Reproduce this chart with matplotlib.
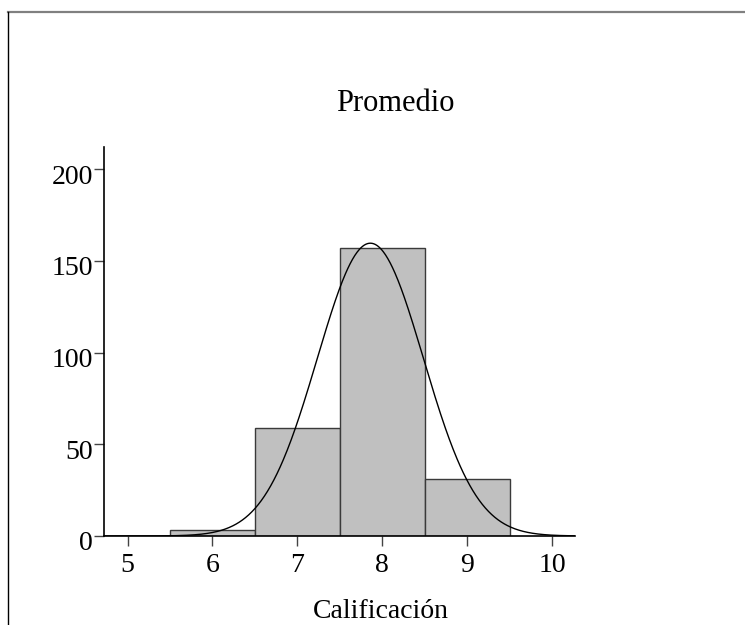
import numpy as np
import matplotlib
matplotlib.use("Agg")
import matplotlib.pyplot as plt
import matplotlib.transforms as mtransforms
from matplotlib.lines import Line2D

# Data
grades = [5, 6, 7, 8, 9]
counts = [0, 3, 59, 157, 31]
fit_mean = 7.86
fit_sd = 0.625
title = "Promedio"
xlabel = "Calificación"
xticks = [5, 6, 7, 8, 9, 10]
yticks = [0, 50, 100, 150, 200]

plt.rcParams['font.family'] = ['Liberation Serif', 'DejaVu Serif']
FS = 20

fig = plt.figure(figsize=(7.45, 6.25), dpi=100)
ax = fig.add_axes([104/745, 1-536/625, (575-104)/745, (536-147)/625])

ax.bar(grades, counts, width=1.0, color='#c0c0c0', edgecolor='#3a3a3a', linewidth=1.0, zorder=2)

xlim = (4.723, 10.27)
xs = np.linspace(xlim[0], xlim[1], 600)
n = sum(counts)
ys = n * 1.0 / (fit_sd * np.sqrt(2*np.pi)) * np.exp(-0.5*((xs-fit_mean)/fit_sd)**2)
ax.plot(xs, ys, color='black', linewidth=1.0, zorder=3)

ax.set_xlim(*xlim)
ax.set_ylim(0, 212)
ax.set_xticks(xticks)
ax.set_yticks(yticks)
ax.tick_params(axis='both', labelsize=FS, length=7, width=1, color='#444444', direction='out')
ax.tick_params(axis='y', pad=1)
ax.tick_params(axis='x', pad=5)
for s in ['top', 'right']:
    ax.spines[s].set_visible(False)
for s in ['left', 'bottom']:
    ax.spines[s].set_linewidth(1.2)
    ax.spines[s].set_color('black')

offset = mtransforms.ScaledTranslation(0, -5/100, fig.dpi_scale_trans)
for lbl in ax.get_yticklabels():
    lbl.set_transform(lbl.get_transform() + offset)

fig.text(395/745, 1-110.7/625, title, fontsize=22, ha='center', va='baseline')
fig.text(381/745, 1-618.5/625, xlabel, fontsize=FS, ha='center', va='baseline')

# outer frame lines
fig.add_artist(Line2D([8/745, 1], [1-11.7/625, 1-11.7/625], transform=fig.transFigure, color='#808080', linewidth=1.6))
fig.add_artist(Line2D([8.3/745, 8.3/745], [0, 1-11.7/625], transform=fig.transFigure, color='black', linewidth=1.0))

fig.savefig("out.png", dpi=100)
